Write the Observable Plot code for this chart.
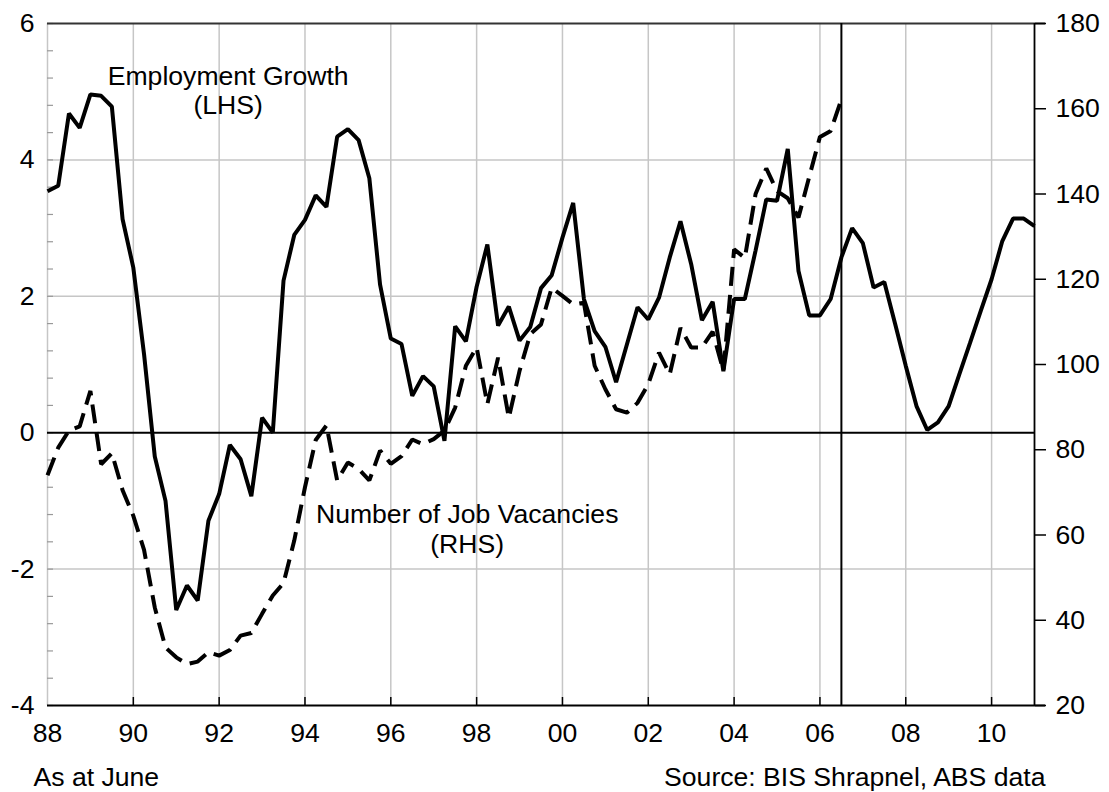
<!DOCTYPE html>
<html>
<head>
<meta charset="utf-8">
<script src="https://cdn.jsdelivr.net/npm/d3@7"></script>
<script src="https://cdn.jsdelivr.net/npm/@observablehq/plot@0.6"></script>
<style>
  html, body { margin: 0; padding: 0; background: #fff; }
  #chart { width: 1109px; height: 792px; }
</style>
</head>
<body>
<div id="chart"></div>
<script>
// ---------- DATA ----------
// Quarterly observations (as at June), first quarter listed = June 1988
const seriesStart = 1988;
const stepYears = 0.25;

// Employment growth, % (left-hand scale)
const employmentGrowth = [
  3.54, 3.62, 4.68, 4.47, 4.96, 4.94, 4.78, 3.13,   // 1988.0 - 1989.75
  2.42, 1.15, -0.35, -1.00, -2.60, -2.24, -2.46, -1.29, // 1990.0 - 1991.75
  -0.90, -0.18, -0.39, -0.93, 0.22, 0.00, 2.23, 2.90,  // 1992.0 - 1993.75
  3.12, 3.48, 3.31, 4.34, 4.45, 4.29, 3.73, 2.17,      // 1994.0 - 1995.75
  1.38, 1.30, 0.54, 0.83, 0.68, -0.12, 1.56, 1.34,     // 1996.0 - 1997.75
  2.14, 2.76, 1.57, 1.85, 1.35, 1.55, 2.12, 2.31,      // 1998.0 - 1999.75
  2.86, 3.37, 1.96, 1.49, 1.26, 0.74, 1.29, 1.84,      // 2000.0 - 2001.75
  1.66, 1.98, 2.57, 3.10, 2.47, 1.65, 1.92, 0.90,      // 2002.0 - 2003.75
  1.96, 1.96, 2.67, 3.42, 3.40, 4.16, 2.37, 1.72,      // 2004.0 - 2005.75
  1.72, 1.96, 2.57, 3.00, 2.78, 2.13, 2.21, 1.60,      // 2006.0 - 2007.75
  0.98, 0.39, 0.04, 0.15, 0.39, 0.86, 1.32, 1.79,      // 2008.0 - 2009.75
  2.25, 2.81, 3.14, 3.14, 3.03                         // 2010.0 - 2011.0
];

// Number of job vacancies, '000 (right-hand scale)
const jobVacancies = [
  74.0, 80.5, 84.5, 85.5, 93.8, 76.6, 79.2, 70.5,      // 1988.0 - 1989.75
  64.5, 56.5, 43.0, 33.6, 31.3, 29.7, 30.3, 32.5,      // 1990.0 - 1991.75
  31.7, 33.0, 36.4, 37.0, 41.5, 45.8, 48.7, 58.7,      // 1992.0 - 1993.75
  71.2, 82.3, 85.7, 72.8, 77.0, 75.5, 72.8, 79.8,      // 1994.0 - 1995.75
  76.7, 78.5, 82.4, 81.3, 82.5, 84.5, 89.9, 99.7,      // 1996.0 - 1997.75
  104.0, 90.7, 101.6, 87.5, 98.5, 107.1, 109.4, 118.0, // 1998.0 - 1999.75
  116.1, 114.1, 114.5, 99.7, 94.2, 89.5, 88.7, 91.0,   // 2000.0 - 2001.75
  95.4, 102.8, 97.7, 108.6, 104.0, 104.0, 107.7, 98.5, // 2002.0 - 2003.75
  127.0, 125.0, 140.0, 146.0, 140.7, 139.0, 134.5, 144.0, // 2004.0 - 2005.75
  153.4, 154.8, 162.2                                  // 2006.0 - 2006.5
];

const xDomain = [1988, 2011];
const lhsDomain = [-4, 6];
const rhsDomain = [20, 180];
const xTickValues = [1988, 1990, 1992, 1994, 1996, 1998, 2000, 2002, 2004, 2006, 2008, 2010];
const xTickLabels = ["88", "90", "92", "94", "96", "98", "00", "02", "04", "06", "08", "10"];
const lhsTickValues = [-4, -2, 0, 2, 4, 6];
const lhsGridValues = [-2, 2, 4];
const rhsTickValues = [20, 40, 60, 80, 100, 120, 140, 160, 180];
const lhsMinorStep = 0.4;
const markerYear = 2006.5;

const seriesLabels = [
  {text: "Employment Growth\n(LHS)", x: 1992.21, y: 4.67},
  {text: "Number of Job Vacancies\n(RHS)", x: 1997.78, y: -1.76}
];
const captionLeft = "As at June";
const captionRight = "Source: BIS Shrapnel, ABS data";

// ---------- BUILD ----------
const toLhs = d3.scaleLinear().domain(rhsDomain).range(lhsDomain);
const toRhs = toLhs.invert;

const employment = employmentGrowth.map((v, i) => ({year: seriesStart + i * stepYears, value: v}));
const vacancies = jobVacancies.map((v, i) => ({year: seriesStart + i * stepYears, value: v}));
const lhsMinor = d3.range(0, Math.round((lhsDomain[1] - lhsDomain[0]) / lhsMinorStep) + 1)
  .map(i => +(lhsDomain[0] + i * lhsMinorStep).toFixed(2));

const W = 1109, H = 792;
const mL = 47, mR = 75, mT = 23, mB = 87;
const innerW = W - mL - mR, innerH = H - mT - mB;
const FS = 26.6;
const grid = "#c6c6c6";

const chart = Plot.plot({
  width: W,
  height: H,
  marginLeft: mL,
  marginRight: mR,
  marginTop: mT,
  marginBottom: mB,
  style: {fontFamily: "'Liberation Sans', Arial, sans-serif", fontSize: FS + "px", background: "#fff", color: "#000"},
  x: {domain: xDomain, label: null},
  y: {domain: lhsDomain, label: null},
  marks: [
    Plot.gridX(xTickValues, {stroke: grid, strokeOpacity: 1, strokeWidth: 1.5}),
    Plot.gridY(lhsGridValues, {stroke: grid, strokeOpacity: 1, strokeWidth: 1.5}),
    Plot.tickY(lhsMinor, {y: d => d, stroke: "#999", strokeWidth: 1.2, insetRight: innerW - 6}),
    Plot.tickX(xTickValues.slice(1), {x: d => d, stroke: "#000", strokeWidth: 1.5, insetTop: innerH - 8}),
    Plot.ruleY([lhsDomain[1]], {stroke: "#333", strokeWidth: 2, insetRight: -11}),
    Plot.ruleY([lhsDomain[0]], {stroke: "#000", strokeWidth: 2, insetRight: -11}),
    Plot.ruleY([0], {stroke: "#000", strokeWidth: 2}),
    Plot.ruleX([xDomain[1]], {stroke: "#000", strokeWidth: 1.8}),
    Plot.ruleX([markerYear], {stroke: "#000", strokeWidth: 2}),
    Plot.line(vacancies, {x: "year", y: d => toLhs(d.value), stroke: "#000", strokeWidth: 4,
      strokeDasharray: "19,9", strokeLinejoin: "miter", strokeLinecap: "butt"}),
    Plot.line(employment, {x: "year", y: "value", stroke: "#000", strokeWidth: 4,
      strokeLinejoin: "miter", strokeLinecap: "butt"}),
    Plot.axisX(xTickValues, {tickSize: 0, tickPadding: 18, fontSize: FS,
      tickFormat: d => xTickLabels[xTickValues.indexOf(d)], label: null}),
    Plot.axisY(lhsTickValues, {anchor: "left", tickSize: 0, tickPadding: 13, fontSize: FS,
      tickFormat: d => String(d), label: null}),
    Plot.axisY(rhsTickValues.map(v => toLhs(v)), {anchor: "right", tickSize: 11, tickPadding: 10,
      fontSize: FS, stroke: "#000", strokeWidth: 1.5,
      tickFormat: d => String(Math.round(toRhs(d))), label: null}),
    Plot.text(seriesLabels, {x: "x", y: "y", text: "text", textAnchor: "middle", lineAnchor: "bottom",
      lineHeight: 1.1, fontSize: FS, fill: "#000"}),
    Plot.text([captionLeft], {frameAnchor: "bottom-left", text: d => d, textAnchor: "start",
      lineAnchor: "bottom", dx: -14, dy: 80, fontSize: FS, fill: "#000"}),
    Plot.text([captionRight], {frameAnchor: "bottom-right", text: d => d, textAnchor: "end",
      lineAnchor: "bottom", dx: 11, dy: 80, fontSize: FS, fill: "#000"})
  ]
});

document.getElementById("chart").appendChild(chart);
</script>
</body>
</html>
